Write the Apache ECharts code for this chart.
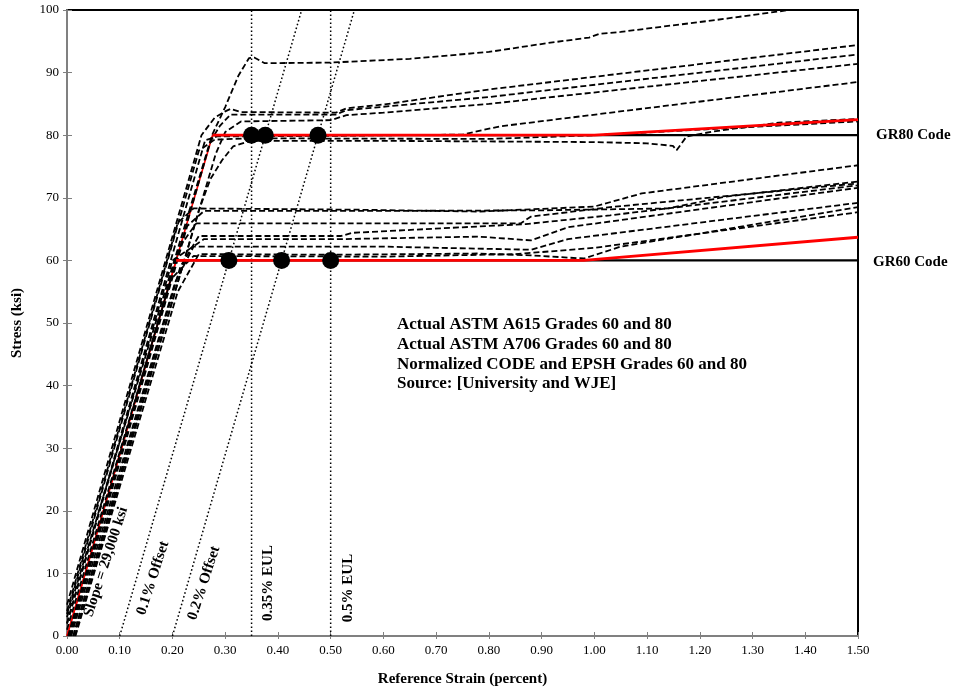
<!DOCTYPE html>
<html>
<head>
<meta charset="utf-8">
<script src="https://cdn.jsdelivr.net/npm/echarts@6/dist/echarts.min.js"></script>
<style>
html,body{margin:0;padding:0;background:#fff;}
#chart{width:954px;height:692px;}
</style>
</head>
<body>
<div id="chart"></div>
<script>
// ---- Data ----
const xTicks = [0,0.1,0.2,0.3,0.4,0.5,0.6,0.7,0.8,0.9,1.0,1.1,1.2,1.3,1.4,1.5];
const yTicks = [0,10,20,30,40,50,60,70,80,90,100];

// Grade 80 test curves [strain %, stress ksi]
const testA = [[0,3],[0.275,80],[0.30,84.5],[0.325,89.5],[0.345,92.3],[0.355,92.4],[0.375,91.5],[0.5,91.6],[0.65,92.2],[0.8,93.3],[0.91,94.7],[0.99,95.6],[1.01,96.2],[1.05,96.5],[1.23,98.4],[1.37,100],[1.5,101.5]];
const testB = [[0,5],[0.255,80],[0.28,82.8],[0.3,83.8],[0.31,84.2],[0.33,83.7],[0.51,83.6],[0.53,84.3],[0.6,84.9],[0.8,87.3],[1.5,94.4]];
const testC = [[0.004,0],[0.272,79],[0.29,81.5],[0.31,83.3],[0.51,83.3],[0.53,84.0],[0.8,86.1],[1.5,92.9]];
const testD = [[0.012,0],[0.282,77],[0.30,80.5],[0.33,82.2],[0.5,82.4],[0.53,83.2],[0.6,83.6],[0.8,85.0],[1.5,91.4]];
const testF = [[0,2],[0.262,79.2],[0.285,79.8],[0.5,79.9],[0.75,80.1],[0.82,81.4],[1.5,88.5]];
const testG = [[0.015,0],[0.25,68],[0.272,73],[0.294,76],[0.315,78.2],[0.347,79.1],[0.6,79.1],[1.0,78.9],[1.1,78.7],[1.149,78.3],[1.156,77.6],[1.175,79.8],[1.226,80.6],[1.35,82.0],[1.5,82.6]];
const testH = [[0,3.5],[0.25,77.5],[0.28,79.3],[0.35,79.5],[0.8,79.4],[1.0,80.0],[1.5,82.2]];

// Grade 60 test curves
const testL1 = [[0,4],[0.21,66],[0.24,68.3],[0.55,68.1],[0.78,67.8],[1.0,68.6],[1.09,70.7],[1.5,75.2]];
const testL2 = [[0.006,0],[0.228,65.5],[0.26,67.9],[0.6,67.9],[0.9,68.0],[1.14,68.3],[1.25,70.2],[1.5,72.6]];
const testL3 = [[0.002,0],[0.212,62],[0.245,65.9],[0.86,65.9],[0.88,67.0],[1.03,68.5],[1.5,72.3]];
const testL4 = [[0.012,0],[0.215,59],[0.25,63.9],[0.52,63.9],[0.54,64.4],[0.87,65.8],[1.03,67.2],[1.5,72.0]];
const testL5 = [[0,2],[0.2,60],[0.26,63.4],[0.52,63.4],[0.78,63.8],[0.88,63.2],[0.95,65.3],[1.5,71.6]];
const testL6 = [[0.008,0],[0.205,56.5],[0.24,62.2],[0.6,62.2],[0.88,61.7],[0.95,63.4],[1.5,69.2]];
const testL7 = [[0.016,0],[0.21,55],[0.25,61.0],[0.5,60.9],[0.78,61.1],[0.88,60.8],[0.98,60.3],[1.05,62.2],[1.5,68.5]];
const testL8 = [[0,1],[0.197,57],[0.24,60.7],[0.6,60.6],[0.85,61.0],[1.0,62.0],[1.5,67.7]];

// Normalized CODE/EPSH curves (red)
const norm80 = [[0,0],[0.276,80],[1.0,80],[1.5,82.5]];
const norm60 = [[0,0],[0.207,60],[0.98,60],[1.5,63.7]];

// Code minimum lines
const code80 = [[0.276,80],[1.5,80]];
const code60 = [[0.207,60],[1.5,60]];

// Reference lines
const offset01 = [[0.1,0],[0.445,100]];
const offset02 = [[0.2,0],[0.545,100]];
const eul035 = [[0.35,0],[0.35,100]];
const eul05 = [[0.5,0],[0.5,100]];

// Yield points
const yield80 = [[0.35,80],[0.376,80],[0.476,80]];
const yield60 = [[0.307,60],[0.407,60],[0.5,60]];

const annotationLines = ['Actual ASTM A615 Grades 60 and 80','Actual ASTM A706 Grades 60 and 80','Normalized CODE and EPSH Grades 60 and 80','Source: [University and WJE]'];

// ---- Chart ----
const FONT = "'Liberation Serif','Times New Roman',serif";
const chart = echarts.init(document.getElementById('chart'));
const tests = [testA,testB,testC,testD,testF,testG,testH,testL1,testL2,testL3,testL4,testL5,testL6,testL7,testL8];
const series = [];
[norm80,norm60].forEach(function(d){
  series.push({type:'line',data:d.slice(0,2),symbol:'none',silent:true,z:1,
    lineStyle:{color:'#ff0000',width:1.6}});
});
tests.forEach(function(d){
  series.push({type:'line',data:d,symbol:'none',silent:true,z:2,
    lineStyle:{color:'#000',width:1.8,type:[6,3]}});
});
[offset01,offset02,eul035,eul05].forEach(function(d){
  series.push({type:'line',data:d,symbol:'none',silent:true,z:1,
    lineStyle:{color:'#000',width:1.5,type:[1.6,2.4]}});
});
[code80,code60].forEach(function(d){
  series.push({type:'line',data:d,symbol:'none',silent:true,z:3,
    lineStyle:{color:'#000',width:2.2}});
});
[norm80,norm60].forEach(function(d){
  series.push({type:'line',data:d.slice(1),symbol:'none',silent:true,z:4,
    lineStyle:{color:'#ff0000',width:2.8}});
});
[yield80,yield60].forEach(function(d){
  series.push({type:'scatter',data:d,symbol:'circle',symbolSize:17,silent:true,z:5,
    itemStyle:{color:'#000',opacity:1}});
});

const graphics = [];
function rtext(txt,x,y,deg,size){
  graphics.push({type:'text',x:x,y:y,rotation:deg*Math.PI/180,z:10,
    style:{text:txt,font:'bold '+size+'px '+FONT,fill:'#000',textAlign:'center',textVerticalAlign:'middle'}});
}
rtext('Slope = 29,000 ksi',106,562,72,15);
rtext('0.1% Offset',153,578,72,15);
rtext('0.2% Offset',204,583,72,15);
rtext('0.35% EUL',268,583,90,15);
rtext('0.5% EUL',348,588,90,15);
graphics.push({type:'text',x:876,y:135,z:10,style:{text:'GR80 Code',font:'bold 15px '+FONT,fill:'#000',textVerticalAlign:'middle'}});
graphics.push({type:'text',x:873,y:262,z:10,style:{text:'GR60 Code',font:'bold 15px '+FONT,fill:'#000',textVerticalAlign:'middle'}});
annotationLines.forEach(function(t,i){
  graphics.push({type:'text',x:397,y:325+i*19.7,z:10,style:{text:t,font:'bold 17px '+FONT,fill:'#000',textVerticalAlign:'middle'}});
});

const axisGray = '#808080';
chart.setOption({
  animation:false,
  backgroundColor:'#fff',
  grid:{left:67,right:96,top:10,bottom:56,show:true,borderColor:'#000',borderWidth:2,backgroundColor:'transparent'},
  xAxis:[{type:'value',min:0,max:1.5,interval:0.1,
    name:'Reference Strain (percent)',nameLocation:'middle',nameGap:36,
    nameTextStyle:{fontFamily:FONT,fontWeight:'bold',fontSize:15,color:'#000'},
    axisLine:{show:true,onZero:false,lineStyle:{color:axisGray,width:2}},
    axisTick:{show:true,length:3,lineStyle:{color:axisGray}},
    axisLabel:{fontFamily:FONT,fontSize:13,color:'#000',margin:8,formatter:function(v){return v.toFixed(2);}},
    splitLine:{show:false}},
   {type:'value',position:'bottom',min:0,max:1.5,interval:0.1,
    axisLine:{show:false},axisLabel:{show:false},splitLine:{show:false},
    axisTick:{show:true,inside:true,length:4,lineStyle:{color:axisGray}}}],
  yAxis:[{type:'value',min:0,max:100,interval:10,
    name:'Stress (ksi)',nameLocation:'middle',nameGap:42,
    nameTextStyle:{fontFamily:FONT,fontWeight:'bold',fontSize:15,color:'#000'},
    axisLine:{show:true,onZero:false,lineStyle:{color:axisGray,width:2}},
    axisTick:{show:true,length:4,lineStyle:{color:axisGray}},
    axisLabel:{fontFamily:FONT,fontSize:13,color:'#000',margin:8},
    splitLine:{show:false}},
   {type:'value',position:'left',min:0,max:100,interval:10,
    axisLine:{show:false},axisLabel:{show:false},splitLine:{show:false},
    axisTick:{show:true,inside:true,length:5,lineStyle:{color:axisGray}}}],
  series:series,
  graphic:graphics
});
</script>
</body>
</html>
